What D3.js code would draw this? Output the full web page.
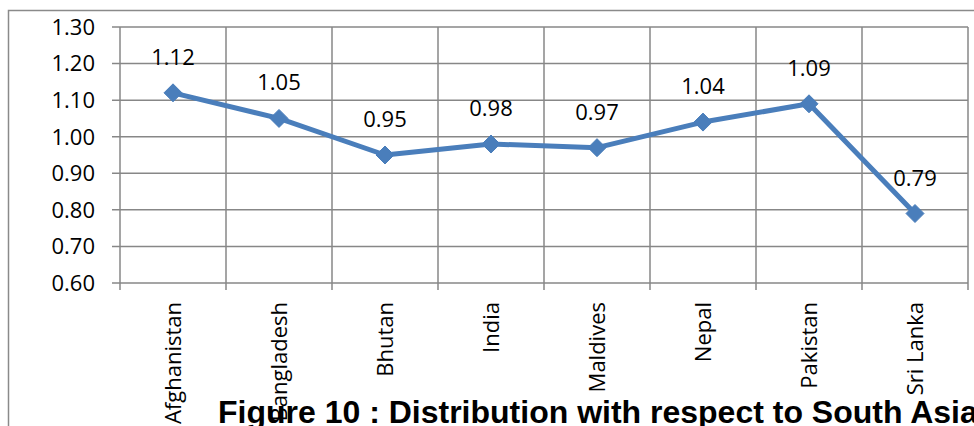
<!DOCTYPE html>
<html>
<head>
<meta charset="utf-8">
<script src="https://cdn.jsdelivr.net/npm/d3@7"></script>
<style>
  html, body { margin: 0; padding: 0; background: #fff; overflow: hidden; }
  svg { display: block; }
</style>
</head>
<body>
<svg id="chart" width="974" height="426"></svg>
<script>
// South Asian countries and their values
const countries = ["Afghanistan", "Bangladesh", "Bhutan", "India", "Maldives", "Nepal", "Pakistan", "Sri Lanka"];
const values = [1.12, 1.05, 0.95, 0.98, 0.97, 1.04, 1.09, 0.79];
const yTicks = [0.60, 0.70, 0.80, 0.90, 1.00, 1.10, 1.20, 1.30];
const title = "Figure 10 : Distribution with respect to South Asia";

const svg = d3.select("#chart");
const margin = { left: 120, right: 6, top: 27, bottom: 143 };
const W = 974, H = 426;
const plotW = W - margin.left - margin.right;
const plotH = H - margin.top - margin.bottom;

const gridColor = "#878787";
const lineColor = "#4A7EBB";
const labelFont = "'Open Sans', 'Noto Sans', sans-serif";

// Chart area frame
svg.append("path")
  .attr("d", `M8.5,${H} L8.5,10.5 L${W},10.5`)
  .attr("fill", "none").attr("stroke", "#8a8a8a").attr("stroke-width", 1.5);

const g = svg.append("g").attr("transform", `translate(${margin.left},${margin.top})`);

const x = d3.scaleBand().domain(countries).range([0, plotW]).padding(0);
const y = d3.scaleLinear().domain([0.60, 1.30]).range([plotH, 0]);

// Horizontal gridlines
g.append("g").selectAll("line").data(yTicks).join("line")
  .attr("x1", -8).attr("x2", plotW)
  .attr("y1", d => y(d)).attr("y2", d => y(d))
  .attr("stroke", gridColor).attr("stroke-width", 1.5);

// Vertical gridlines at category boundaries, with ticks below the axis
const bounds = countries.map(c => x(c)).concat([plotW]);
g.append("g").selectAll("line").data(bounds).join("line")
  .attr("x1", d => d).attr("x2", d => d)
  .attr("y1", 0).attr("y2", plotH + 7)
  .attr("stroke", gridColor).attr("stroke-width", 1.5);

// Y tick labels
g.append("g").selectAll("text").data(yTicks).join("text")
  .attr("x", -25).attr("y", d => y(d))
  .attr("dy", "0.36em")
  .attr("text-anchor", "end")
  .attr("font-family", labelFont).attr("font-size", 22)
  .attr("fill", "#000")
  .text(d => d.toFixed(2));

// Category labels, rotated
g.append("g").selectAll("text").data(countries).join("text")
  .attr("transform", d => `translate(${x(d) + x.bandwidth() / 2},${plotH + 19}) rotate(-90)`)
  .attr("dy", "0.36em")
  .attr("text-anchor", "end")
  .attr("font-family", labelFont).attr("font-size", 22)
  .attr("fill", "#000")
  .text(d => d);

// Series line
const cx = (d, i) => x(countries[i]) + x.bandwidth() / 2;
g.append("path")
  .datum(values)
  .attr("d", d3.line().x(cx).y(d => y(d)))
  .attr("fill", "none")
  .attr("stroke", lineColor).attr("stroke-width", 5)
  .attr("stroke-linejoin", "round");

// Diamond markers
g.append("g").selectAll("path").data(values).join("path")
  .attr("transform", (d, i) => `translate(${cx(d, i)},${y(d)})`)
  .attr("d", "M0,-9 L9,0 L0,9 L-9,0 Z")
  .attr("fill", lineColor).attr("stroke", lineColor).attr("stroke-width", 1);

// Value labels
g.append("g").selectAll("text").data(values).join("text")
  .attr("x", cx).attr("y", d => y(d) - 28)
  .attr("text-anchor", "middle")
  .attr("font-family", labelFont).attr("font-size", 22)
  .attr("fill", "#000")
  .text(d => d.toFixed(2));

// Figure caption
svg.append("text")
  .attr("x", 218).attr("y", 423)
  .attr("font-family", "'Liberation Sans', Arial, sans-serif")
  .attr("font-weight", "bold").attr("font-size", 32)
  .attr("fill", "#000")
  .text(title);
</script>
</body>
</html>
